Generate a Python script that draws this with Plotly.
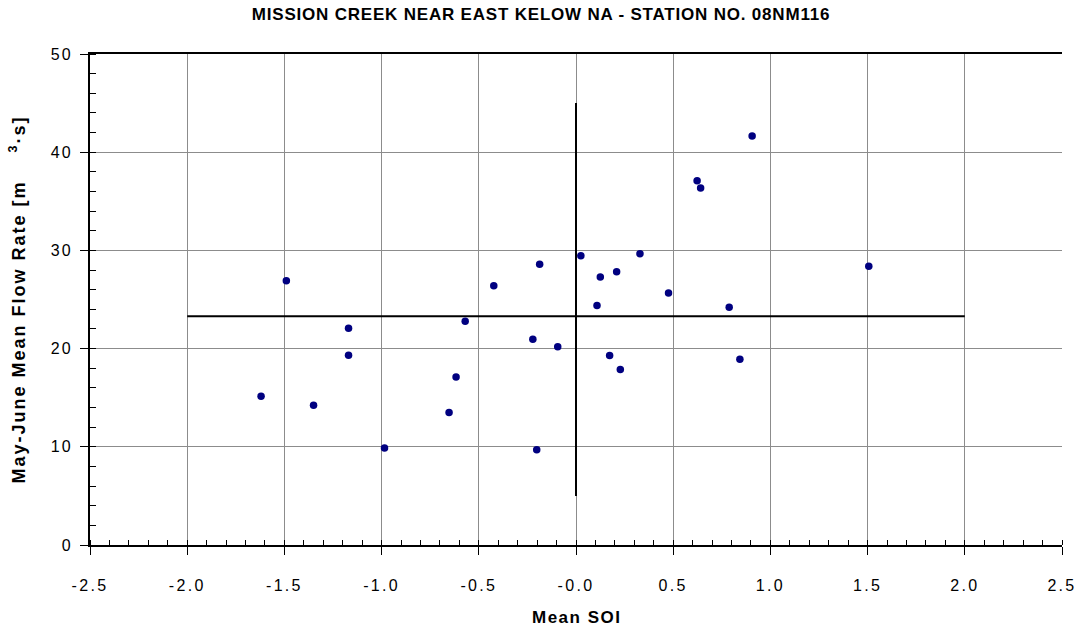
import plotly.graph_objects as go

# Data
soi = [-1.62, -1.49, -1.35, -1.17, -1.17, -0.985, -0.653, -0.617, -0.570, -0.423,
       -0.222, -0.187, -0.202, -0.094, 0.025, 0.125, 0.108, 0.173, 0.209, 0.228,
       0.329, 0.476, 0.623, 0.641, 0.788, 0.843, 0.906, 1.506]
flow = [15.16, 26.9, 14.24, 22.07, 19.33, 9.87, 13.49, 17.12, 22.79, 26.41,
        20.96, 28.59, 9.69, 20.2, 29.46, 27.3, 24.4, 19.29, 27.83, 17.86,
        29.66, 25.67, 37.09, 36.35, 24.21, 18.92, 41.64, 28.38]

mean_line_x = [-2.0, 2.0]
mean_line_y = [23.3, 23.3]
zero_line_x = [0.0, 0.0]
zero_line_y = [5.0, 45.0]

x_tickvals = [-2.5, -2.0, -1.5, -1.0, -0.5, 0.0, 0.5, 1.0, 1.5, 2.0, 2.5]
x_ticklabels = ["-2.5", "-2.0", "-1.5", "-1.0", "-0.5", "-0.0", "0.5", "1.0", "1.5", "2.0", "2.5"]
y_tickvals = [0, 10, 20, 30, 40, 50]
y_ticklabels = ["0", "10", "20", "30", "40", "50"]

title_text = "MISSION CREEK NEAR EAST KELOW NA - STATION NO. 08NM116"
x_title = "Mean SOI"
y_title = "May-June Mean Flow Rate [m\u00a0\u00a0\u00a0\u00a0<sup>3</sup>·s]"

FONT = "Liberation Sans, Arial, sans-serif"


def spaced(text, px):
    return '<span style="letter-spacing:%spx">%s</span>' % (px, text)


fig = go.Figure()
fig.add_trace(go.Scatter(x=mean_line_x, y=mean_line_y, mode="lines",
                         line=dict(color="black", width=2), showlegend=False, hoverinfo="skip"))
fig.add_trace(go.Scatter(x=zero_line_x, y=zero_line_y, mode="lines",
                         line=dict(color="black", width=2), showlegend=False, hoverinfo="skip"))
fig.add_trace(go.Scatter(x=soi, y=flow, mode="markers",
                         marker=dict(color="#000080", size=7.5), showlegend=False))

fig.update_layout(
    width=1082, height=632,
    paper_bgcolor="white", plot_bgcolor="white",
    margin=dict(l=90, r=20, t=54, b=87),
    font=dict(family=FONT, color="black"),
    title=dict(text="<b>" + spaced(title_text, 0.8) + "</b>",
               x=0.5, xanchor="center", y=1 - 14 / 632, yanchor="middle",
               yref="container", font=dict(size=17, family=FONT)),
    annotations=[
        dict(text="<b>" + spaced(x_title, 1.5) + "</b>", xref="paper", yref="paper", x=0.5, y=0,
             xanchor="center", yanchor="middle", yshift=-72, showarrow=False,
             font=dict(size=17, family=FONT)),
        dict(text="<b>" + spaced(y_title, 2) + "</b>", xref="paper", yref="paper", x=0, y=0.5,
             xanchor="center", yanchor="middle", xshift=-72, textangle=-90, showarrow=False,
             font=dict(size=18, family=FONT)),
    ],
)

fig.update_xaxes(
    range=[-2.5, 2.5], tickvals=x_tickvals, ticktext=[spaced(t, 2.3) for t in x_ticklabels],
    automargin=False,
    showgrid=True, gridcolor="#8c8c8c", gridwidth=1, zeroline=False,
    showline=True, linecolor="black", linewidth=1.5, mirror=True,
    ticks="outside", ticklen=8, tickcolor="black",
    ticklabelstandoff=17,
    tickfont=dict(size=16, family=FONT),
    minor=dict(dtick=0.1, ticks="inside", ticklen=5, tickcolor="black", showgrid=False),
)
fig.update_yaxes(
    range=[0, 50], tickvals=y_tickvals, ticktext=[spaced(t, 2.3) for t in y_ticklabels],
    automargin=False,
    showgrid=True, gridcolor="#8c8c8c", gridwidth=1, zeroline=False,
    showline=True, linecolor="black", linewidth=1.5,
    ticks="outside", ticklen=8, tickcolor="black",
    ticklabelstandoff=4,
    tickfont=dict(size=16, family=FONT),
    minor=dict(dtick=2, ticks="inside", ticklen=6, tickcolor="black", showgrid=False),
)

fig.write_html("out.html", config={"displayModeBar": False},
               post_script="document.body.style.margin='0';document.body.style.padding='0';")
